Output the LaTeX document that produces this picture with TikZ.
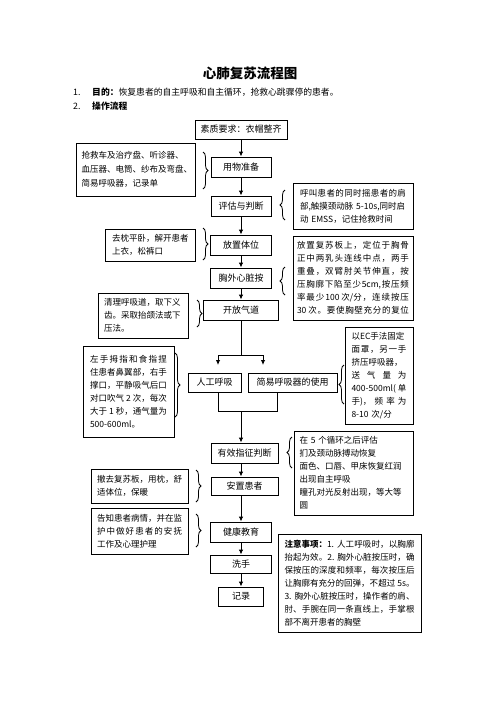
\documentclass[tikz,border=0pt]{standalone}
\usepackage{fontspec}
\setmainfont{Noto Sans CJK SC}
\usetikzlibrary{arrows.meta,decorations.pathreplacing}
\newcommand\jl[2]{\makebox[#1][s]{\spaceskip=0pt plus 1fil\xspaceskip=0pt plus 1fil\relax#2}}
\begin{document}
\begin{tikzpicture}[x=1pt,y=-1pt,
  mainbox/.style={draw, line width=0.9pt, inner sep=0pt, font=\fontsize{9}{11}\selectfont},
  sidebox/.style={draw, line width=0.9pt, align=left, inner ysep=2pt, font=\fontsize{8.5}{13}\selectfont},
  arr/.style={line width=0.9pt, -{Latex[length=5pt,width=4.5pt]}},
  ln/.style={line width=0.9pt},
  brc/.style={line width=0.8pt, decorate, decoration={brace, amplitude=5pt}}]
\fill[white] (0,0) rectangle (496,702);
\useasboundingbox (0,0) rectangle (496,702);

% header
\node[font=\fontsize{13.5}{15}\selectfont\bfseries] (title) at (250,73) {心肺复苏流程图};
\node[anchor=west, inner sep=0pt, font=\fontsize{8.8}{10}\selectfont] (n1) at (73,92) {1.};
\node[anchor=west, inner sep=0pt, font=\fontsize{8.8}{10}\selectfont] (t1) at (92,92) {\textbf{目的：}恢复患者的自主呼吸和自主循环，抢救心跳骤停的患者。};
\node[anchor=west, inner sep=0pt, font=\fontsize{8.8}{10}\selectfont] (n2) at (73,106) {2.};
\node[anchor=west, inner sep=0pt, font=\fontsize{8.8}{10}\selectfont] (t2) at (92,106) {\textbf{操作流程}};

% main column
\node[mainbox, minimum width=92pt, minimum height=19pt] (su) at (241,129.5) {素质要求：衣帽整齐};
\node[mainbox, minimum width=60pt, minimum height=20pt] (yw) at (241,167) {用物准备};
\node[mainbox, minimum width=60pt, minimum height=20pt] (pg) at (241,206) {评估与判断};
\node[mainbox, minimum width=61pt, minimum height=20pt] (fz) at (241,245) {放置体位};
\node[mainbox, minimum width=61pt, minimum height=20pt] (xw) at (241,278) {胸外心脏按};
\node[mainbox, minimum width=75pt, minimum height=20pt] (kf) at (241,310) {开放气道};
\node[mainbox, minimum width=53pt, minimum height=19pt] (rg) at (214.5,382.5) {人工呼吸};
\node[mainbox, minimum width=89pt, minimum height=19pt] (jy) at (292.5,382.5) {简易呼吸器的使用};
\node[mainbox, minimum width=67pt, minimum height=20pt] (yx) at (244.5,453) {有效指征判断};
\node[mainbox, minimum width=67pt, minimum height=18pt] (az) at (244.5,486) {安置患者};
\node[mainbox, minimum width=61pt, minimum height=20pt] (jk) at (241,532) {健康教育};
\node[mainbox, minimum width=61pt, minimum height=18pt] (xs) at (241,564) {洗手};
\node[mainbox, minimum width=45pt, minimum height=19pt] (jl) at (241,596.5) {记录};

% side boxes
\node[sidebox, minimum width=119pt, minimum height=53pt, text width=108pt, font=\fontsize{8.5}{14}\selectfont] (A) at (135.5,169.5)
  {抢救车及治疗盘、听诊器、\\血压器、电筒、纱布及弯盘、\\简易呼吸器，记录单};
\node[sidebox, minimum width=120pt, minimum height=46pt, text width=106pt] (B) at (353,206)
  {\jl{106pt}{呼 叫 患 者 的 同 时 摇 患 者 的 肩}\\部,触摸颈动脉 5-10s,同时启\\动 EMSS，记住抢救时间};
\node[sidebox, minimum width=90pt, minimum height=32pt, text width=76pt] (C) at (150,245)
  {去枕平卧，解开患者\\上衣，松裤口};
\node[sidebox, minimum width=120pt, minimum height=84pt, text width=112pt] (D) at (353,278)
  {\jl{112pt}{放 置 复 苏 板 上 ， 定 位 于 胸 骨}\\
   \jl{112pt}{正 中 两 乳 头 连 线 中 点 ， 两 手}\\
   \jl{112pt}{重 叠 ， 双 臂 肘 关 节 伸 直 ， 按}\\
   \jl{112pt}{压 胸 廓 下 陷 至 少 5cm, 按 压 频}\\
   \jl{112pt}{率 最 少 100\kern2pt 次/分 ， 连 续 按 压}\\
   \jl{112pt}{30\kern2pt 次 。 要 使 胸 壁 充 分 的 复 位}};
\node[sidebox, minimum width=90pt, minimum height=45pt, text width=78pt] (E) at (143,315.5)
  {清理呼吸道，取下义\\齿。采取抬颌法或下\\压法。};
\node[sidebox, minimum width=68pt, minimum height=97pt, text width=55pt] (F) at (379,375.5)
  {以EC手法固定\\
   \jl{55pt}{面 罩 ， 另 一 手}\\
   挤压呼吸器，\\
   \jl{55pt}{送 气 量 为}\\
   \jl{55pt}{400-500ml( 单}\\
   \jl{55pt}{手)， 频 率 为}\\
   8-10 次/分};
\node[sidebox, minimum width=91pt, minimum height=91pt, text width=77pt] (G) at (128.5,391.5)
  {\jl{77pt}{左 手 拇 指 和 食 指 捏}\\
   \jl{77pt}{住 患 者 鼻 翼 部 ， 右 手}\\
   \jl{77pt}{撑 口 ， 平 静 吸 气 后 口}\\
   \jl{77pt}{对 口 吹 气 \kern2pt2\kern2pt 次 ， 每 次}\\
   \jl{77pt}{大 于 \kern2pt1\kern2pt 秒 ， 通 气 量 为}\\
   500-600ml。};
\node[sidebox, minimum width=119pt, minimum height=84pt, text width=108pt] (H) at (353.5,473)
  {在 5 个循环之后评估\\扪及颈动脉搏动恢复\\面色、口唇、甲床恢复红润\\出现自主呼吸\\瞳孔对光反射出现，等大等\\圆};
\node[sidebox, minimum width=97pt, minimum height=34pt, text width=85pt] (I) at (139.5,486)
  {撤去复苏板，用枕，舒\\适体位，保暖};
\node[sidebox, minimum width=97pt, minimum height=46pt, text width=85pt] (J) at (139.5,531)
  {告知患者病情，并在监\\\jl{85pt}{护 中 做 好 患 者 的 安 抚}\\工作及心理护理};
\node[sidebox, minimum width=143pt, minimum height=98pt, text width=130pt] (K) at (349.5,583)
  {\jl{130pt}{\textbf{注意事项：}1.\kern3pt 人 工 呼 吸 时 ， 以 胸 廓}\\
   \jl{130pt}{抬 起 为 效 。 2.\kern3pt 胸 外 心 脏 按 压 时 ， 确}\\
   \jl{130pt}{保 按 压 的 深 度 和 频 率 ， 每 次 按 压 后}\\
   \jl{130pt}{让 胸 廓 有 充 分 的 回 弹 ， 不 超 过 \kern2pt5s。}\\
   \jl{130pt}{3.\kern3pt 胸 外 心 脏 按 压 时 ， 操 作 者 的 肩 、}\\
   \jl{130pt}{肘 、 手 腕 在 同 一 条 直 线 上 ， 手 掌 根}\\
   部不离开患者的胸壁};

% braces
\draw[brc] (203,152) -- (203,189);
\draw[brc] (285,220) -- (285,190);
\draw[brc] (203,228) -- (203,260);
\draw[brc] (285,295) -- (285,267);
\draw[brc] (197,300) -- (197,327);
\draw[brc] (175,353) -- (175,417);
\draw[brc] (344,404) -- (344,365);
\draw[brc] (292,468) -- (292,437);
\draw[brc] (196,470) -- (196,502);
\draw[brc] (196,514) -- (196,547);

% connectors
\coordinate (sp) at (241,355);
\coordinate (spL) at (218,355);
\coordinate (spR) at (263,355);
\coordinate (tL) at (218,365);
\coordinate (tR) at (263,365);
\coordinate (mL) at (218,411);
\coordinate (mR) at (277,411);
\coordinate (mg) at (241,411);

\draw[arr] (su) -- (yw);
\draw[arr] (yw) -- (pg);
\draw[arr] (pg) -- (fz);
\draw[arr] (fz) -- (xw);
\draw[arr] (xw) -- (kf);
\draw[ln] (kf.south) -- (sp);
\draw[ln] (spL) -- (spR);
\draw[arr] (spL) -- (tL);
\draw[arr] (spR) -- (tR);
\draw[ln] (rg.south -| mL) -- (mL) -- (mR) -- (jy.south -| mR);
\draw[arr] (mg) -- (mg |- yx.north);
\draw[arr] (yx.south -| mg) -- (az.north -| mg);
\draw[arr] (az.south -| mg) -- (jk.north -| mg);
\draw[arr] (jk) -- (xs);
\draw[arr] (xs) -- (jl);
\end{tikzpicture}
\end{document}
